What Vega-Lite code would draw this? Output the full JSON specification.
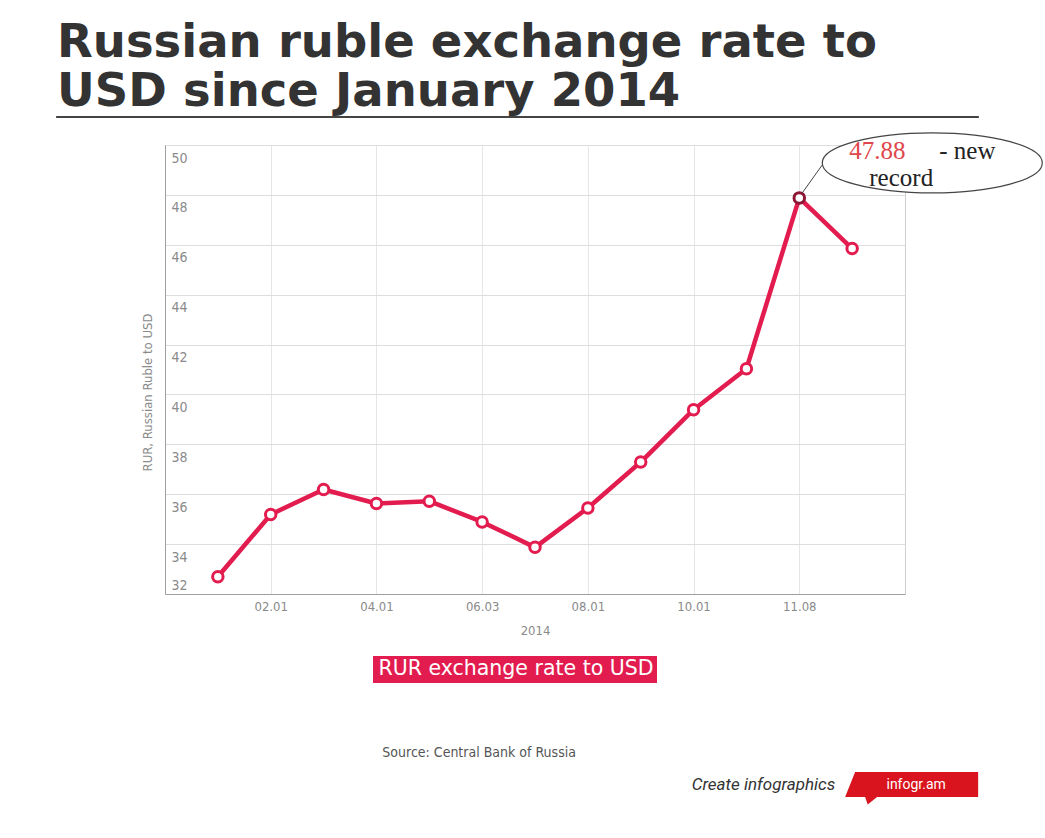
{
  "$schema": "https://vega.github.io/schema/vega-lite/v6.json",
  "width": 740,
  "height": 449,
  "autosize": {"type": "none"},
  "padding": {"left": 165, "top": 145, "right": 140, "bottom": 244},
  "background": "white",
  "config": {
    "view": {"stroke": "#cfcfcf", "strokeWidth": 1},
    "axis": {"labelFont": "Liberation Sans Narrow, DejaVu Sans Condensed, Roboto", "titleFont": "Liberation Sans Narrow, DejaVu Sans Condensed, Roboto", "labelColor": "#8a8a8a", "titleColor": "#8a8a8a", "titleFontWeight": "normal", "ticks": false, "domainColor": "#a0a0a0"},
    "legend": {"orient": "none", "legendX": 208, "legendY": 511, "fillColor": "#e31c4f", "padding": 3, "labelColor": "white", "labelFont": "DejaVu Sans", "labelFontSize": 20.5, "labelLimit": 500, "symbolSize": 0, "symbolStrokeWidth": 0, "symbolOpacity": 0, "labelOffset": -18, "columnPadding": 0}
  },
  "title": {
    "text": ["Russian ruble exchange rate to", "USD since January 2014"],
    "anchor": "start",
    "frame": "group",
    "dx": -108,
    "offset": 1,
    "font": "DejaVu Sans",
    "fontWeight": "bold",
    "fontSize": 46.5,
    "lineHeight": 49,
    "color": "#333333"
  },
  "data": {
    "values": [
      {"date": "01.01", "rate": 32.69},
      {"date": "02.01", "rate": 35.19},
      {"date": "03.01", "rate": 36.19},
      {"date": "04.01", "rate": 35.63},
      {"date": "05.01", "rate": 35.72},
      {"date": "06.03", "rate": 34.89},
      {"date": "07.01", "rate": 33.87},
      {"date": "08.01", "rate": 35.45},
      {"date": "09.01", "rate": 37.29},
      {"date": "10.01", "rate": 39.39},
      {"date": "11.01", "rate": 41.03},
      {"date": "11.08", "rate": 47.88},
      {"date": "11.14", "rate": 45.85}
    ]
  },
  "encoding": {
    "x": {
      "field": "date", "type": "ordinal", "sort": null,
      "scale": {"type": "point", "padding": 1, "domain": ["01.01", "02.01", "03.01", "04.01", "05.01", "06.03", "07.01", "08.01", "09.01", "10.01", "11.01", "11.08", "11.14"]},
      "axis": {
        "values": ["02.01", "04.01", "06.03", "08.01", "10.01", "11.08"],
        "title": "2014", "labelAngle": 0, "labelFontSize": 13, "labelPadding": 6, "titleFontSize": 13, "titlePadding": 11,
        "grid": true, "gridColor": "#cccccc", "gridDash": [1, 1]
      }
    },
    "y": {
      "field": "rate", "type": "quantitative",
      "scale": {"domain": [32, 50], "nice": false, "zero": false},
      "axis": {
        "values": [32, 34, 36, 38, 40, 42, 44, 46, 48, 50],
        "title": "RUR, Russian Ruble to USD", "titleFontSize": 13, "titleY": 247, "titlePadding": 11,
        "labelAlign": "left", "labelPadding": -6, "labelFontSize": 14, "labelBaseline": "alphabetic",
        "labelOffset": {"condition": {"test": "datum.value == 32", "value": -5}, "value": 17},
        "grid": true, "gridColor": "#dddddd"
      }
    }
  },
  "layer": [
    {
      "mark": {"type": "rule", "color": "#444444", "strokeWidth": 2, "x2Offset": 126, "xOffset": -161, "yOffset": -28, "y2Offset": -28},
      "encoding": {
        "x": {"datum": "01.01"},
        "x2": {"datum": "11.14"},
        "y": {"datum": 50},
        "y2": {"datum": 50}
      }
    },
    {
      "mark": {"type": "line", "strokeWidth": 4.5, "strokeJoin": "round"},
      "encoding": {
        "color": {"datum": "RUR exchange rate to USD", "scale": {"range": ["#e31c4f"]}, "legend": {"title": null}}
      }
    },
    {
      "mark": {"type": "point", "filled": false, "fill": "white", "fillOpacity": 1, "size": 110, "strokeWidth": 3, "opacity": 1},
      "encoding": {
        "stroke": {"condition": {"test": "datum.date == '11.08'", "value": "#8c1634"}, "value": "#e31c4f"}
      }
    },
    {
      "data": {"values": [{"date": "11.08", "rate": 47.88, "value": "47.88", "note": "- new", "note2": "record"}]},
      "layer": [
        {
          "mark": {"type": "rule", "color": "#444444", "strokeWidth": 1, "x2Offset": 28, "y2Offset": -40, "xOffset": 3, "yOffset": -5},
          "encoding": {"x": {"field": "date", "type": "ordinal"}, "y": {"field": "rate", "type": "quantitative"}, "x2": {"datum": "11.08"}, "y2": {"datum": 47.88}}
        },
        {
          "mark": {"type": "point", "shape": "M-1,0A1,0.2727,0,1,1,1,0A1,0.2727,0,1,1,-1,0Z", "size": 48400, "filled": true, "fill": "white", "stroke": "#444444", "strokeWidth": 1.2, "opacity": 1, "fillOpacity": 1, "xOffset": 133, "yOffset": -35},
          "encoding": {"x": {"field": "date", "type": "ordinal"}, "y": {"field": "rate", "type": "quantitative"}}
        },
        {
          "mark": {"type": "text", "align": "left", "baseline": "alphabetic", "dx": 50, "dy": -39, "font": "Liberation Serif", "fontSize": 25, "color": "#e0474c"},
          "encoding": {"x": {"field": "date", "type": "ordinal"}, "y": {"field": "rate", "type": "quantitative"}, "text": {"field": "value"}}
        },
        {
          "mark": {"type": "text", "align": "left", "baseline": "alphabetic", "dx": 140, "dy": -39, "font": "Liberation Serif", "fontSize": 25, "color": "#222222"},
          "encoding": {"x": {"field": "date", "type": "ordinal"}, "y": {"field": "rate", "type": "quantitative"}, "text": {"field": "note"}}
        },
        {
          "mark": {"type": "text", "align": "left", "baseline": "alphabetic", "dx": 70, "dy": -12, "font": "Liberation Serif", "fontSize": 25, "color": "#222222"},
          "encoding": {"x": {"field": "date", "type": "ordinal"}, "y": {"field": "rate", "type": "quantitative"}, "text": {"field": "note2"}}
        }
      ]
    },
    {
      "data": {"values": [{"date": "06.03", "rate": 32, "source": "Source: Central Bank of Russia", "create": "Create infographics", "brand": "infogr.am", "anchor": "11.14"}]},
      "layer": [
        {
          "mark": {"type": "text", "align": "center", "baseline": "alphabetic", "dx": -3, "dy": 163, "font": "Liberation Sans Narrow, DejaVu Sans Condensed, Roboto", "fontSize": 14, "color": "#555555"},
          "encoding": {"x": {"field": "date", "type": "ordinal"}, "y": {"field": "rate", "type": "quantitative"}, "text": {"field": "source"}}
        },
        {
          "mark": {"type": "point", "shape": "M-0.85,-0.188L1,-0.188L1,0.188L-0.52,0.188L-0.66,0.3L-0.70,0.188L-1,0.188Z", "size": 17689, "filled": true, "fill": "#d9141e", "opacity": 1, "strokeWidth": 0, "xOffset": 59.5, "yOffset": 190.5},
          "encoding": {"x": {"field": "anchor", "type": "ordinal"}, "y": {"field": "rate", "type": "quantitative"}}
        },
        {
          "mark": {"type": "text", "align": "right", "baseline": "alphabetic", "dx": -17, "dy": 196, "font": "Roboto", "fontStyle": "italic", "fontSize": 17, "color": "#333333"},
          "encoding": {"x": {"field": "anchor", "type": "ordinal"}, "y": {"field": "rate", "type": "quantitative"}, "text": {"field": "create"}}
        },
        {
          "mark": {"type": "text", "align": "center", "baseline": "alphabetic", "dx": 64, "dy": 195, "font": "Roboto", "fontWeight": "normal", "fontSize": 14, "color": "white"},
          "encoding": {"x": {"field": "anchor", "type": "ordinal"}, "y": {"field": "rate", "type": "quantitative"}, "text": {"field": "brand"}}
        }
      ]
    }
  ]
}
